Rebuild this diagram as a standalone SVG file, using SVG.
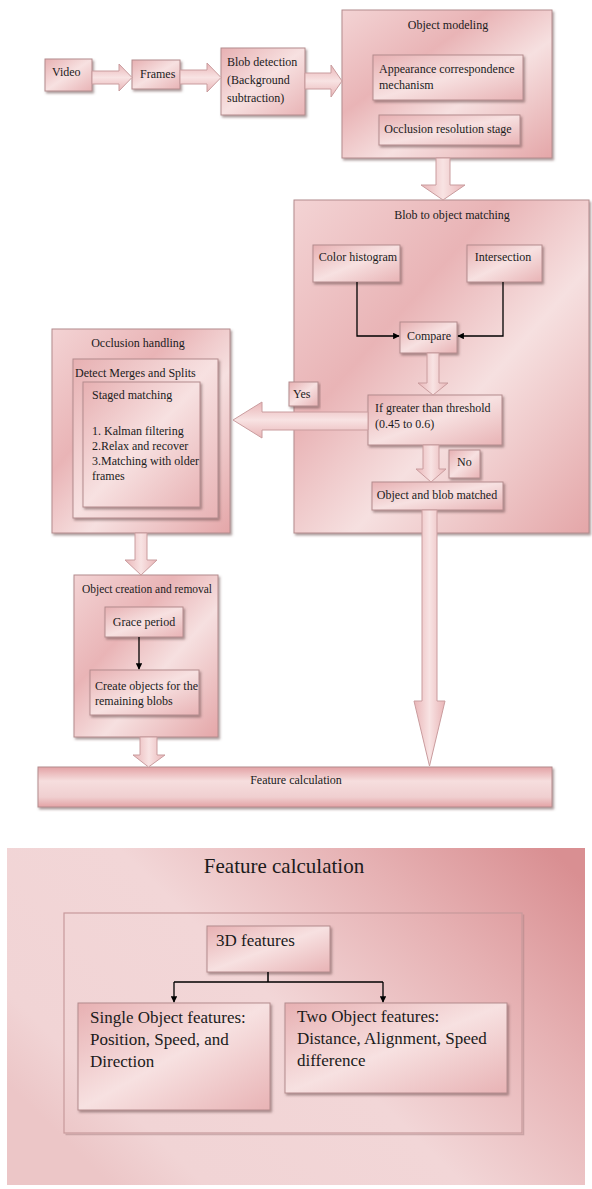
<svg xmlns="http://www.w3.org/2000/svg" width="592" height="1189" viewBox="0 0 592 1189">
<defs>
<linearGradient id="gb" x1="0" y1="0" x2="1" y2="1">
<stop offset="0" stop-color="#f3d3d4"/>
<stop offset="0.35" stop-color="#e9b4b6"/>
<stop offset="0.6" stop-color="#f6e0e0"/>
<stop offset="1" stop-color="#e4a6a8"/>
</linearGradient>
<linearGradient id="gs" x1="0" y1="0" x2="1" y2="1">
<stop offset="0" stop-color="#e7b0b2"/>
<stop offset="0.5" stop-color="#f7e1e1"/>
<stop offset="1" stop-color="#e8b3b5"/>
</linearGradient>
<linearGradient id="gv" x1="0" y1="0" x2="1" y2="0">
<stop offset="0" stop-color="#e9b5b7"/>
<stop offset="0.5" stop-color="#f8e3e3"/>
<stop offset="1" stop-color="#e9b5b7"/>
</linearGradient>
<linearGradient id="gh" x1="0" y1="0" x2="0" y2="1">
<stop offset="0" stop-color="#e9b5b7"/>
<stop offset="0.5" stop-color="#f8e3e3"/>
<stop offset="1" stop-color="#e9b5b7"/>
</linearGradient>
<linearGradient id="gbar" x1="0" y1="0" x2="0" y2="1">
<stop offset="0" stop-color="#e3a2a5"/>
<stop offset="0.35" stop-color="#f6dede"/>
<stop offset="0.75" stop-color="#f0cfd0"/>
<stop offset="1" stop-color="#e3a2a5"/>
</linearGradient>
<linearGradient id="gpanel" x1="0" y1="0.7" x2="1" y2="0.1">
<stop offset="0" stop-color="#ecc6c7"/>
<stop offset="0.12" stop-color="#f1d4d5"/>
<stop offset="0.45" stop-color="#f2d6d7"/>
<stop offset="0.75" stop-color="#e6b1b3"/>
<stop offset="1" stop-color="#d98f92"/>
</linearGradient>
<filter id="sh" x="-5%" y="-5%" width="115%" height="125%">
<feDropShadow dx="1.5" dy="2" stdDeviation="0.8" flood-color="#6b4b4c" flood-opacity="0.55"/>
</filter>
<marker id="ah" viewBox="0 0 10 10" refX="9" refY="5" markerWidth="5" markerHeight="5" orient="auto">
<path d="M0,0 L10,5 L0,10 Z" fill="#000"/>
</marker>
</defs>
<style>
.box{fill:url(#gb);stroke:#b48b8d;stroke-width:1;filter:url(#sh)}
.sbox{fill:url(#gs);stroke:#b48b8d;stroke-width:1;filter:url(#sh)}
.t{font-family:"Liberation Serif",serif;font-size:12px;fill:#1b1b1b}
.tm{text-anchor:middle}
.tb{font-family:"Liberation Serif",serif;font-size:17px;fill:#1b1b1b}
.av{fill:url(#gv);stroke:#c99c9e;stroke-width:1}
.ah2{fill:url(#gh);stroke:#c99c9e;stroke-width:1}
.ln{fill:none;stroke:#000;stroke-width:1.3;marker-end:url(#ah)}
</style>

<g id="video"><rect class="sbox" x="45" y="59" width="47" height="32"/><text class="t" x="52" y="76">Video</text></g>
<g id="frames"><rect class="sbox" x="132" y="60" width="48" height="29"/><text class="t" x="140" y="78">Frames</text></g>
<g id="blob-detection"><rect class="sbox" x="221" y="48" width="84" height="67"/>
<text class="t" x="227" y="66" font-size="13">Blob detection</text><text class="t" x="227" y="84" font-size="13">(Background</text><text class="t" x="227" y="102" font-size="13">subtraction)</text></g>

<g id="object-modeling"><rect class="box" x="342" y="10" width="210" height="148"/><text class="t tm" x="448" y="29">Object modeling</text></g>
<g id="appearance"><rect class="sbox" x="373" y="55" width="150" height="45"/><text class="t" x="379" y="73">Appearance correspondence</text><text class="t" x="379" y="89">mechanism</text></g>
<g id="occlusion-resolution"><rect class="sbox" x="379" y="115" width="141" height="30"/><text class="t tm" x="448" y="133">Occlusion resolution stage</text></g>

<g id="blob-to-object"><rect class="box" x="294" y="200" width="295" height="333"/><text class="t tm" x="452" y="219">Blob to object matching</text></g>
<g id="color-histogram"><rect class="sbox" x="313" y="245" width="87" height="37"/><text class="t tm" x="358" y="261">Color histogram</text></g>
<g id="intersection"><rect class="sbox" x="467" y="245" width="75" height="37"/><text class="t tm" x="503" y="261">Intersection</text></g>
<g id="compare"><rect class="sbox" x="400" y="322" width="57" height="31"/><text class="t tm" x="429" y="340">Compare</text></g>
<g id="threshold"><rect class="sbox" x="368" y="395" width="134" height="50"/><text class="t" x="375" y="412">If greater than threshold</text><text class="t" x="375" y="428">(0.45 to 0.6)</text></g>
<g id="no"><rect class="sbox" x="449" y="450" width="31" height="28"/><text class="t" x="457" y="466">No</text></g>
<g id="matched"><rect class="sbox" x="372" y="482" width="131" height="28"/><text class="t tm" x="437" y="499">Object and blob matched</text></g>

<g id="occlusion-handling"><rect class="box" x="52" y="329" width="178" height="204"/><text class="t tm" x="138" y="347">Occlusion handling</text></g>
<g id="detect-merges"><rect class="sbox" x="73" y="359" width="145" height="159"/><text class="t" x="75" y="377">Detect Merges and Splits</text></g>
<g id="staged-matching"><rect class="sbox" x="83" y="382" width="117" height="125"/>
<text class="t" x="92" y="399">Staged matching</text>
<text class="t" x="92" y="435">1. Kalman filtering</text>
<text class="t" x="92" y="450">2.Relax and recover</text>
<text class="t" x="92" y="465">3.Matching with older</text>
<text class="t" x="92" y="480">frames</text></g>

<g id="object-creation"><rect class="box" x="74" y="575" width="144" height="162"/><text class="t tm" x="147" y="593" textLength="130" lengthAdjust="spacingAndGlyphs">Object creation and removal</text></g>
<g id="grace-period"><rect class="sbox" x="105" y="607" width="78" height="30"/><text class="t tm" x="144" y="626">Grace period</text></g>
<g id="create-objects"><rect class="sbox" x="90" y="670" width="109" height="45"/><text class="t" x="95" y="690">Create objects for the</text><text class="t" x="95" y="705">remaining blobs</text></g>

<g id="feature-bar"><rect x="38" y="767" width="514" height="40" fill="url(#gbar)" stroke="#b48b8d" filter="url(#sh)"/><text class="t tm" x="296" y="784">Feature calculation</text></g>

<g id="yes"><rect class="sbox" x="289" y="382" width="29" height="24"/><text class="t" x="293" y="398">Yes</text></g>

<g id="connectors">
<path class="ah2" d="M92,71 H119 V64 L132,77.5 L119,91 V84 H92 Z"/>
<path class="ah2" d="M180,70 H207 V63 L221,77.5 L207,92 V84 H180 Z"/>
<path class="ah2" d="M305,73 H331 V65 L342,81 L331,97 V89 H305 Z"/>
<path class="av" d="M436,158 H450 V185 H465 L443,200 L421,185 H436 Z"/>
<path class="av" d="M427,353 H439 V383 H448 L433,395 L418,383 H427 Z"/>
<path class="ah2" d="M368,412 V430 H262 V438 L233,420 L262,402 V412 Z"/>
<path class="av" d="M423,445 H439 V469 H446 L431,482 L416,469 H423 Z"/>
<path class="av" d="M422,510 H437 V701 H445 L429.5,766 L414,701 H422 Z"/>
<path class="av" d="M135,533 H147 V560 H157 L141,575 L125,560 H135 Z"/>
<path class="av" d="M140,737 H157 V755 H165 L148.5,767 L133,755 H140 Z"/>
<path class="ln" d="M357,282 V336 H399"/>
<path class="ln" d="M503,282 V336 H458"/>
<path class="ln" d="M139,637 V669"/>
</g>

<g id="feature-panel">
<rect x="7" y="848" width="578" height="337" fill="url(#gpanel)"/>
<text class="tm" x="284" y="873" font-family="Liberation Serif, serif" font-size="21" fill="#1b1b1b">Feature calculation</text>
</g>
<g id="feature-inner">
<path d="M65.5,1134.5 H523.5 V914.5" fill="none" stroke="#a88284" stroke-opacity="0.5" stroke-width="1.5"/>
<rect x="64" y="913" width="458" height="220" fill="none" stroke="#c7999b" stroke-width="1.2"/>
</g>
<g id="features-3d"><rect class="sbox" x="207" y="926" width="123" height="46"/><text class="tb" x="216" y="946">3D features</text></g>
<g id="single-object"><rect class="sbox" x="78" y="1003" width="192" height="107"/>
<text class="tb" x="90" y="1023">Single Object features:</text>
<text class="tb" x="90" y="1045">Position, Speed, and</text>
<text class="tb" x="90" y="1067">Direction</text></g>
<g id="two-object"><rect class="sbox" x="285" y="1003" width="222" height="90"/>
<text class="tb" x="297" y="1022">Two Object features:</text>
<text class="tb" x="297" y="1044">Distance, Alignment, Speed</text>
<text class="tb" x="297" y="1066">difference</text></g>
<g id="feature-connectors">
<path d="M268,972 V982 M174,982 H383" fill="none" stroke="#000" stroke-width="1.5"/>
<path class="ln" d="M174,982 V1002"/>
<path class="ln" d="M383,982 V1002"/>
</g>
</svg>
